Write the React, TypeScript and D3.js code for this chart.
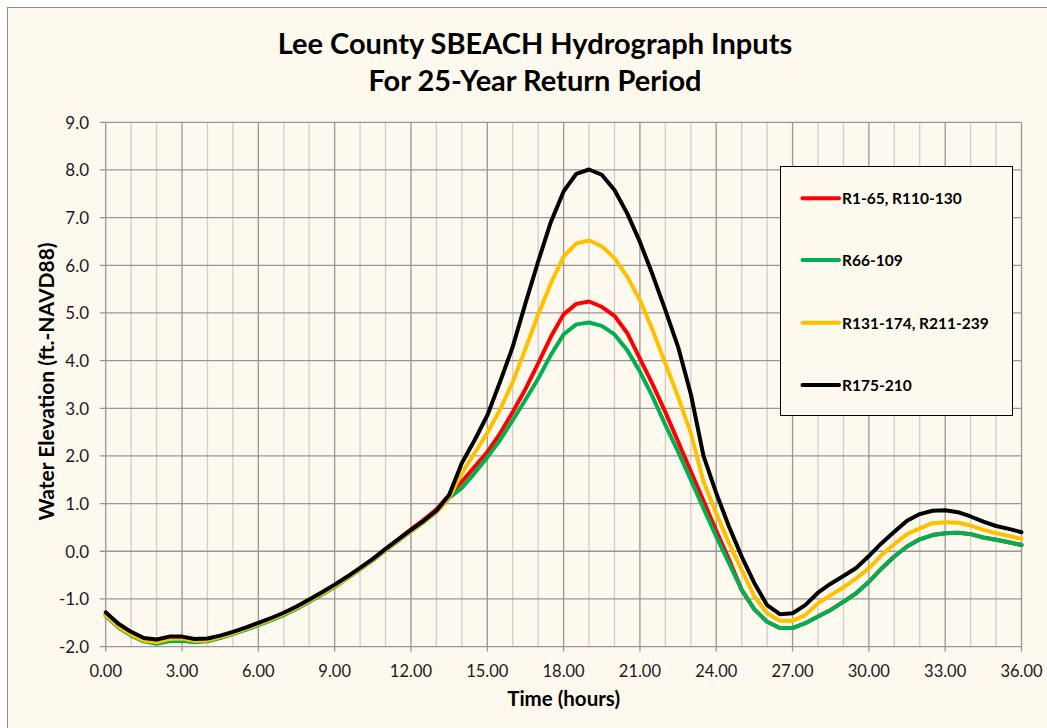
import React from "react";
import * as d3 from "d3";

const hours: number[] = d3.range(0, 36.01, 0.5);

const seriesNames = ["R1-65, R110-130", "R66-109", "R131-174, R211-239", "R175-210"];
const seriesColors = ["#FF0000", "#00B050", "#FFC000", "#000000"];

const redVals = [
  -1.33, -1.57, -1.74, -1.87, -1.91, -1.86, -1.85, -1.89, -1.87, -1.80, -1.72, -1.63, -1.53, -1.43, -1.32, -1.19,
  -1.04, -0.89, -0.72, -0.55, -0.36, -0.17, 0.04, 0.25, 0.46, 0.66, 0.88, 1.18,
  1.46, 1.77, 2.08, 2.47, 2.92, 3.40, 3.94, 4.50, 4.97, 5.19, 5.24, 5.13, 4.94, 4.58, 4.04, 3.50, 2.92, 2.30,
  1.68, 1.06, 0.43, -0.17, -0.81, -1.22, -1.48, -1.61, -1.61, -1.51, -1.37, -1.23, -1.06, -0.88, -0.64, -0.36,
  -0.11, 0.10, 0.25, 0.34, 0.38, 0.39, 0.36, 0.29, 0.24, 0.19, 0.13,
];
const greenVals = [
  -1.36, -1.60, -1.77, -1.89, -1.94, -1.89, -1.88, -1.91, -1.89, -1.82, -1.74, -1.65, -1.55, -1.45, -1.34, -1.21,
  -1.06, -0.91, -0.75, -0.57, -0.38, -0.19, 0.02, 0.22, 0.42, 0.61, 0.82, 1.12,
  1.33, 1.64, 1.97, 2.33, 2.75, 3.18, 3.62, 4.12, 4.55, 4.76, 4.80, 4.73, 4.55, 4.22, 3.77, 3.24, 2.65, 2.09,
  1.50, 0.90, 0.31, -0.25, -0.81, -1.22, -1.48, -1.61, -1.61, -1.51, -1.37, -1.23, -1.06, -0.88, -0.64, -0.36,
  -0.11, 0.10, 0.25, 0.34, 0.38, 0.39, 0.36, 0.29, 0.24, 0.19, 0.13,
];
const yellowVals = [
  -1.34, -1.58, -1.75, -1.87, -1.91, -1.84, -1.83, -1.88, -1.87, -1.80, -1.72, -1.63, -1.53, -1.43, -1.32, -1.19,
  -1.04, -0.89, -0.73, -0.56, -0.37, -0.18, 0.03, 0.23, 0.43, 0.62, 0.82, 1.12,
  1.64, 2.06, 2.48, 2.97, 3.55, 4.25, 4.97, 5.62, 6.18, 6.46, 6.52, 6.40, 6.15, 5.76, 5.27, 4.64, 3.94, 3.24,
  2.48, 1.46, 0.80, 0.17, -0.39, -0.95, -1.30, -1.46, -1.46, -1.34, -1.09, -0.92, -0.76, -0.57, -0.36, -0.08,
  0.15, 0.36, 0.48, 0.59, 0.61, 0.60, 0.54, 0.45, 0.38, 0.32, 0.26,
];
const blackVals = [
  -1.28, -1.52, -1.69, -1.82, -1.85, -1.79, -1.79, -1.84, -1.83, -1.77, -1.69, -1.60, -1.50, -1.40, -1.29, -1.16,
  -1.01, -0.86, -0.70, -0.53, -0.35, -0.16, 0.05, 0.25, 0.45, 0.64, 0.85, 1.18,
  1.85, 2.33, 2.85, 3.55, 4.29, 5.20, 6.08, 6.91, 7.55, 7.92, 8.01, 7.90, 7.58, 7.09, 6.49, 5.80, 5.06, 4.29,
  3.30, 2.00, 1.22, 0.52, -0.11, -0.67, -1.13, -1.32, -1.30, -1.13, -0.87, -0.68, -0.52, -0.35, -0.10, 0.17,
  0.41, 0.64, 0.78, 0.85, 0.86, 0.82, 0.73, 0.62, 0.53, 0.47, 0.40,
];
const seriesValues = [redVals, greenVals, yellowVals, blackVals];

const xTicks = d3.range(0, 36.01, 3);
const xMinor = d3.range(0, 36.01, 1);
const yTicks = d3.range(-2, 9.01, 1);

const titleLines = ["Lee County SBEACH Hydrograph Inputs", "For 25-Year Return Period"];
const xTitle = "Time (hours)";
const yTitle = "Water Elevation (ft.-NAVD88)";

const FONT = "Lato, 'Open Sans', sans-serif";

export default function App() {
  const W = 1047, H = 728;
  const x = d3.scaleLinear().domain([0, 36]).range([105.7, 1021.5]);
  const y = d3.scaleLinear().domain([-2, 9]).range([646.6, 122.3]);
  const line = d3.line<number>().x((_, i) => x(hours[i])).y((d) => y(d));

  const legX = 780.5, legY = 166.5, legW = 232, legH = 249;
  const legRows = [198.3, 260, 322.7, 385];

  return (
    <svg width={W} height={H} style={{ position: "absolute", left: 0, top: 0 }} fontFamily={FONT}>
      <rect x={0} y={0} width={W} height={H} fill="#ffffff" />
      <rect x={7.5} y={7.5} width={1100} height={800} fill="#FEF9EE" stroke="#8a8a8a" strokeWidth={1} />
      {titleLines.map((t, i) => (
        <text key={i} x={535} y={42 + i * 37} textAnchor="middle" dominantBaseline="central"
          fontSize={29} fontWeight="bold" fill="#000">{t}</text>
      ))}
      {xMinor.filter((v) => v % 3 !== 0).map((v) => (
        <line key={"mv" + v} x1={x(v)} x2={x(v)} y1={y(9)} y2={y(-2)} stroke="#cdcdcd" strokeWidth={1.3} />
      ))}
      {xTicks.map((v) => (
        <line key={"v" + v} x1={x(v)} x2={x(v)} y1={y(9)} y2={y(-2) + 5} stroke="#979797" strokeWidth={1.3} />
      ))}
      {yTicks.map((v) => (
        <line key={"h" + v} x1={x(0) - 6} x2={x(36)} y1={y(v)} y2={y(v)} stroke="#979797" strokeWidth={1.3} />
      ))}
      {yTicks.map((v) => (
        <text key={"yl" + v} x={89} y={y(v)} textAnchor="end" dominantBaseline="central" fontSize={17} fill="#1a1a1a">
          {v.toFixed(1)}
        </text>
      ))}
      {xTicks.map((v) => (
        <text key={"xl" + v} x={x(v)} y={671} textAnchor="middle" dominantBaseline="central" fontSize={16.5} fill="#1a1a1a">
          {v.toFixed(2)}
        </text>
      ))}
      <text x={(x(0) + x(36)) / 2} y={698} textAnchor="middle" dominantBaseline="central" fontSize={20.5} fontWeight="bold">
        {xTitle}
      </text>
      <text transform={`translate(45, ${(y(9) + y(-2)) / 2 - 3}) rotate(-90)`} textAnchor="middle" dominantBaseline="central"
        fontSize={21} fontWeight="bold">
        {yTitle}
      </text>
      {seriesValues.map((vals, i) => (
        <path key={"s" + i} d={line(vals) || ""} fill="none" stroke={seriesColors[i]} strokeWidth={4}
          strokeLinejoin="round" strokeLinecap="round" />
      ))}
      <rect x={legX} y={legY} width={legW} height={legH} fill="#FEF9EE" stroke="#000" strokeWidth={1} />
      {seriesNames.map((n, i) => (
        <g key={"lg" + i}>
          <line x1={802.5} x2={839} y1={legRows[i]} y2={legRows[i]} stroke={seriesColors[i]} strokeWidth={4} strokeLinecap="round" />
          <text x={842} y={legRows[i]} dominantBaseline="central" fontSize={15.5} fontWeight="bold">{n}</text>
        </g>
      ))}
    </svg>
  );
}
